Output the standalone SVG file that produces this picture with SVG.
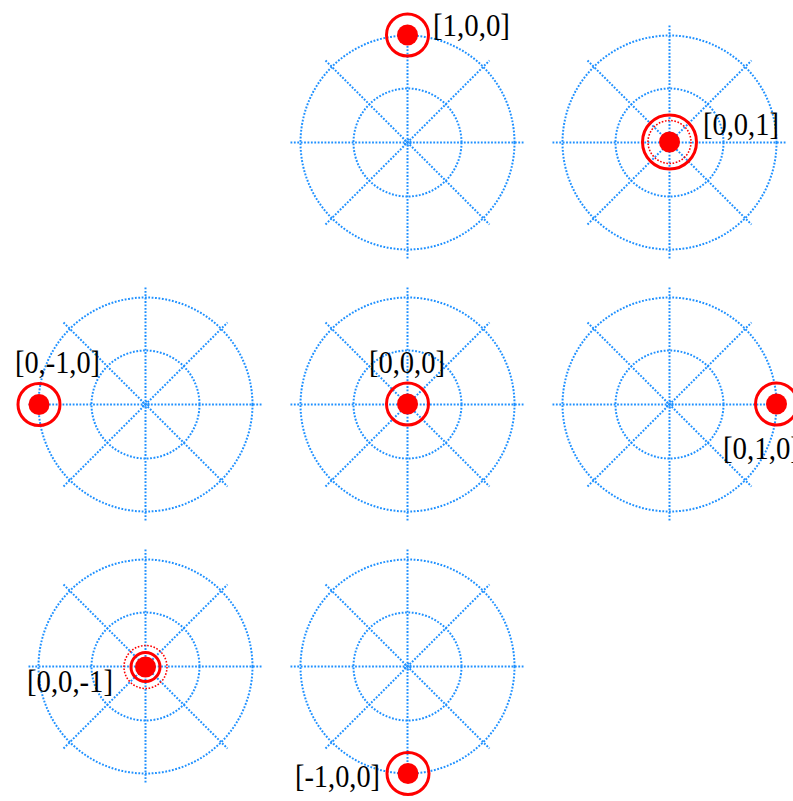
<svg xmlns="http://www.w3.org/2000/svg" xmlns:xlink="http://www.w3.org/1999/xlink" width="793" height="801" viewBox="0 0 793 801">
<style>
.grid{fill:none;stroke:#1E90FF;stroke-width:2;stroke-dasharray:1.8 1.6}
.dot{fill:#FF0000;stroke:none}
.ring{fill:none;stroke:#FF0000;stroke-width:3}
.dring{fill:none;stroke:#FF0000;stroke-width:1.6;stroke-dasharray:1.6 1.6}
.lbl{font-family:"Liberation Serif","Times New Roman",serif;font-size:31px;fill:#000}
</style>
<defs>
<g id="polar">
<circle class="grid" r="107"/>
<circle class="grid" r="54"/>
<circle class="grid" r="3"/>
<line class="grid" x1="-117" y1="0" x2="117" y2="0"/>
<line class="grid" x1="0" y1="-117" x2="0" y2="117"/>
<line class="grid" x1="-82" y1="-82" x2="82" y2="82"/>
<line class="grid" x1="-82" y1="82" x2="82" y2="-82"/>
</g>
</defs>
<rect width="793" height="801" fill="#fff"/>
<g id="plot-1-0-0">
<use xlink:href="#polar" href="#polar" x="407.5" y="142.5"/>
<circle class="dot" cx="407.5" cy="35" r="10.5"/>
<circle class="ring" cx="407.5" cy="35" r="21"/>
<text class="lbl" x="433" y="36" textLength="77" lengthAdjust="spacingAndGlyphs">[1,0,0]</text>
</g>
<g id="plot-0-0-1">
<use xlink:href="#polar" href="#polar" x="669.5" y="142.5"/>
<circle class="dot" cx="669.5" cy="142" r="10.5"/>
<circle class="dring" cx="669.5" cy="142" r="21.5"/>
<circle class="ring" cx="669.5" cy="142" r="27"/>
<text class="lbl" x="703" y="135" textLength="76" lengthAdjust="spacingAndGlyphs">[0,0,1]</text>
</g>
<g id="plot-0-m1-0">
<use xlink:href="#polar" href="#polar" x="145.5" y="404.5"/>
<circle class="dot" cx="39" cy="404.5" r="10.5"/>
<circle class="ring" cx="39" cy="404.5" r="21"/>
<text class="lbl" x="15" y="373" textLength="85" lengthAdjust="spacingAndGlyphs">[0,-1,0]</text>
</g>
<g id="plot-0-0-0">
<use xlink:href="#polar" href="#polar" x="407.5" y="404.5"/>
<circle class="dot" cx="407.5" cy="404" r="10.5"/>
<circle class="ring" cx="407.5" cy="404" r="21"/>
<text class="lbl" x="369" y="373" textLength="76" lengthAdjust="spacingAndGlyphs">[0,0,0]</text>
</g>
<g id="plot-0-1-0">
<use xlink:href="#polar" href="#polar" x="669.5" y="404.5"/>
<circle class="dot" cx="776.5" cy="404" r="10.5"/>
<circle class="ring" cx="776.5" cy="404" r="21"/>
<text class="lbl" x="723" y="459" textLength="77" lengthAdjust="spacingAndGlyphs">[0,1,0]</text>
</g>
<g id="plot-0-0-m1">
<use xlink:href="#polar" href="#polar" x="145.5" y="666.5"/>
<circle class="dot" cx="145.5" cy="667" r="10.5"/>
<circle class="ring" cx="145.5" cy="667" r="14.5"/>
<circle class="dring" cx="145.5" cy="667" r="21.5"/>
<text class="lbl" x="27" y="692" textLength="86" lengthAdjust="spacingAndGlyphs">[0,0,-1]</text>
</g>
<g id="plot-m1-0-0">
<use xlink:href="#polar" href="#polar" x="407.5" y="666.5"/>
<circle class="dot" cx="408" cy="773.5" r="10.5"/>
<circle class="ring" cx="408" cy="773.5" r="21"/>
<text class="lbl" x="295" y="787" textLength="85" lengthAdjust="spacingAndGlyphs">[-1,0,0]</text>
</g>
<g id="connectors"/>
</svg>
